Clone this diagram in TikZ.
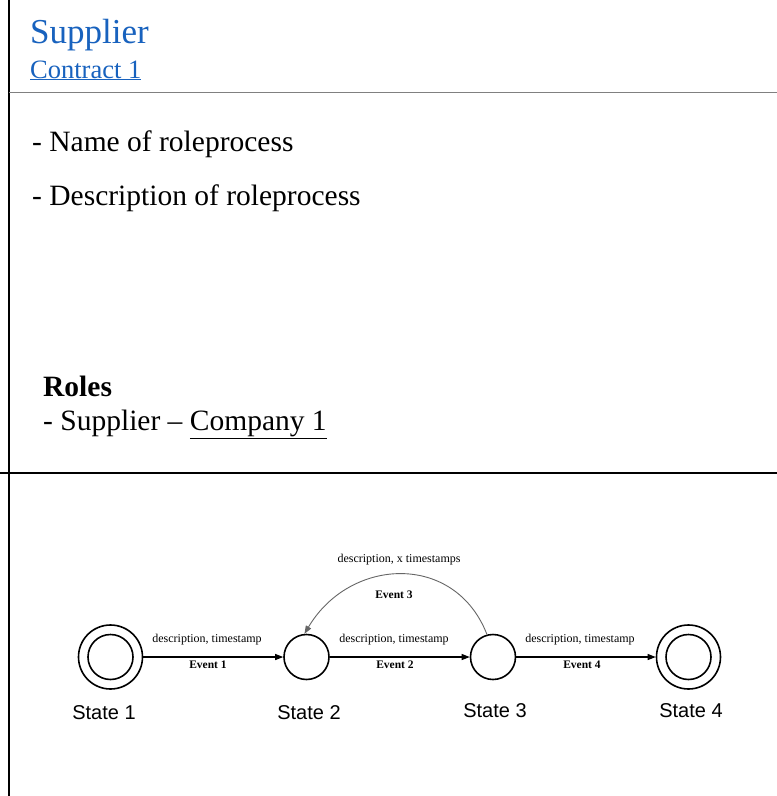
\documentclass[tikz,border=0pt]{standalone}
\usepackage{fontspec}
\setmainfont{Liberation Serif}
\newfontfamily\statefont{Liberation Sans}
\usetikzlibrary{arrows.meta}
\definecolor{linkblue}{RGB}{24,98,190}
\begin{document}
\begin{tikzpicture}[x=1pt,y=-1pt,
  txt/.style={anchor=base west,inner sep=0pt},
  statebox/.style={circle,draw,line width=1.6pt,inner sep=0pt,minimum size=45pt},
  finalbox/.style={circle,draw,line width=1.6pt,inner sep=0pt,minimum size=64pt,
    append after command={\pgfextra{\draw[line width=1.6pt] (\tikzlastnode.center) circle (22.5pt);}}},
  statelbl/.style={anchor=base,inner sep=0pt,font=\statefont\fontsize{20}{24}\selectfont},
  desc/.style={anchor=base,inner sep=0pt,font=\fontsize{12}{14}\selectfont},
  evt/.style={anchor=base,inner sep=0pt,font=\bfseries\fontsize{11.5}{14}\selectfont},
  trans/.style={line width=1.1pt,-{Triangle[length=8pt,width=6pt]}}]
  % page area
  \fill[white] (0,0) rectangle (777,796);
  \useasboundingbox (0,0) rectangle (777,796);
  % frame lines
  \draw[line width=1.3pt] (9,0) -- (9,796);
  \draw[gray,line width=0.9pt] (9,92) -- (777,92);
  \draw[line width=1.6pt] (0,473) -- (777,473);

  % heading
  \node[txt,text=linkblue,font=\fontsize{35}{40}\selectfont] (title) at (30,43) {Supplier};
  \node[txt,text=linkblue,font=\fontsize{26.5}{30}\selectfont] (contract) at (30,78) {\underline{Contract 1}};

  % process description
  \node[txt,font=\fontsize{29.5}{34}\selectfont] (name) at (32,151) {- Name of roleprocess};
  \node[txt,font=\fontsize{29.5}{34}\selectfont] (descr) at (32,205) {- Description of roleprocess};

  % roles
  \node[txt,font=\bfseries\fontsize{29.5}{34}\selectfont] (roles) at (43,396) {Roles};
  \node[txt,font=\fontsize{29.5}{34}\selectfont] (role1) at (43,430) {- Supplier -- \underline{Company 1}};

  % state machine
  \node[finalbox] (s1) at (110.5,657) {};
  \node[statebox] (s2) at (306.5,657) {};
  \node[statebox] (s3) at (493,657) {};
  \node[finalbox] (s4) at (688.5,657) {};

  \node[statelbl] (l1) at (104,719) {State 1};
  \node[statelbl] (l2) at (309,719) {State 2};
  \node[statelbl] (l3) at (495,717) {State 3};
  \node[statelbl] (l4) at (691,717) {State 4};

  \draw[trans] (s1) -- (s2);
  \draw[trans] (s2) -- (s3);
  \draw[trans] (s3) -- (s4);
  \draw[line width=0.9pt,black!60,-{Triangle[length=8pt,width=6pt]}]
    (s3.105) .. controls (455,552) and (350,557) .. (s2.95);

  \node[desc] (d1) at (207,642) {description, timestamp};
  \node[evt] (e1) at (208,668) {Event 1};
  \node[desc] (d2) at (394,642) {description, timestamp};
  \node[evt] (e2) at (395,668) {Event 2};
  \node[desc] (d4) at (580,642) {description, timestamp};
  \node[evt] (e4) at (582,668) {Event 4};
  \node[desc] (d3) at (399,562) {description, x timestamps};
  \node[evt] (e3) at (394,598) {Event 3};
\end{tikzpicture}
\end{document}
